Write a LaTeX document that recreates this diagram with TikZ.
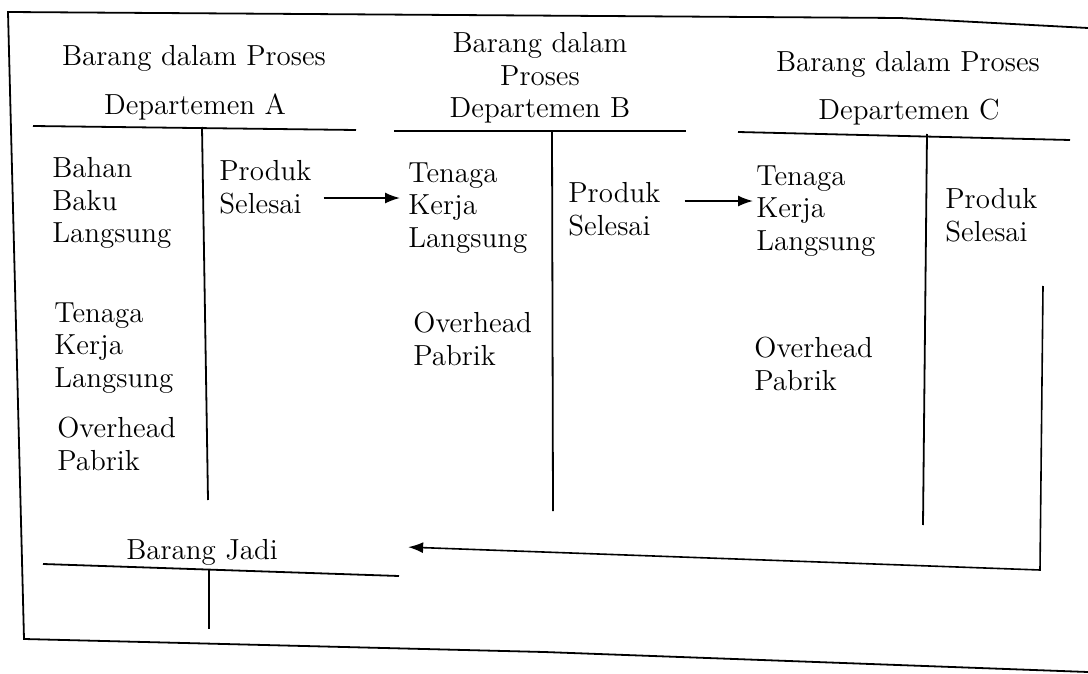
\documentclass[tikz,border=0pt]{standalone}
\usetikzlibrary{calc, arrows.meta}

\begin{document}
\begin{tikzpicture}[x=0.5pt, y=-0.5pt,
	every node/.style={font=\fontsize{14.5}{16.25}\selectfont, inner sep=0pt},
	entry/.style={anchor=north west, align=left},
	title/.style={anchor=base},
	rule/.style={line width=0.9pt},
	flow/.style={line width=0.8pt, -{Latex[length=7.5pt, width=5.5pt]}}]

	\useasboundingbox (0,0) rectangle (1088,674);

	\draw[rule] (1088,28) -- (900,18) -- (8,12) -- (24,639) -- (544,652) -- (1088,672);

	\node[title] (titleA) at (194,66) {Barang dalam Proses};
	\node[title] (deptA)  at (195,115) {Departemen A};
	\node[anchor=north, align=center] (titleB) at (540,32)
		{Barang dalam\\Proses\\Departemen B};
	\node[title] (titleC) at (908,72) {Barang dalam Proses};
	\node[title] (deptC)  at (909,120) {Departemen C};
	\node[title] (jadi)   at (202,559) {Barang Jadi};

	\draw[rule] (33,126) -- (356,130);
	\draw[rule] (202,127) -- (208,500);
	\draw[rule] (394,131) -- (686,131);
	\draw[rule] (552,131) -- (553,511);
	\draw[rule] (738,132) -- (1070,140);
	\draw[rule] (927,134) -- (923,525);
	\draw[rule] (43,564) -- (399,576);
	\draw[rule] (209,570) -- (209,629);

	\node[entry] (bahanA)   at (52,157)  {Bahan\\Baku\\Langsung};
	\node[entry] (tenagaA)  at (54,302)  {Tenaga\\Kerja\\Langsung};
	\node[entry] (overA)    at (57,417)  {Overhead\\Pabrik};
	\node[entry] (produkA)  at (219,160) {Produk\\Selesai};

	\node[entry] (tenagaB)  at (408,162) {Tenaga\\Kerja\\Langsung};
	\node[entry] (overB)    at (413,312) {Overhead\\Pabrik};
	\node[entry] (produkB)  at (568,182) {Produk\\Selesai};

	\node[entry] (tenagaC)  at (756,165) {Tenaga\\Kerja\\Langsung};
	\node[entry] (overC)    at (754,337) {Overhead\\Pabrik};
	\node[entry] (produkC)  at (945,188) {Produk\\Selesai};

	\coordinate (retTop) at (1043,286);
	\coordinate (retBot) at (1040,570);

	\draw[flow] ($(produkA.east)+(6pt,-5.5pt)$)
		-- ($(produkA.east -| tenagaB.west)+(-4pt,-5.5pt)$);
	\draw[flow] ($(produkB.east)+(12pt,4pt)$)
		-- ($(produkB.east -| tenagaC.west)+(-1.5pt,4pt)$);
	\draw[flow] (retTop) -- (retBot) -- ($(jadi.east)+(65pt,2.4pt)$);
\end{tikzpicture}
\end{document}
